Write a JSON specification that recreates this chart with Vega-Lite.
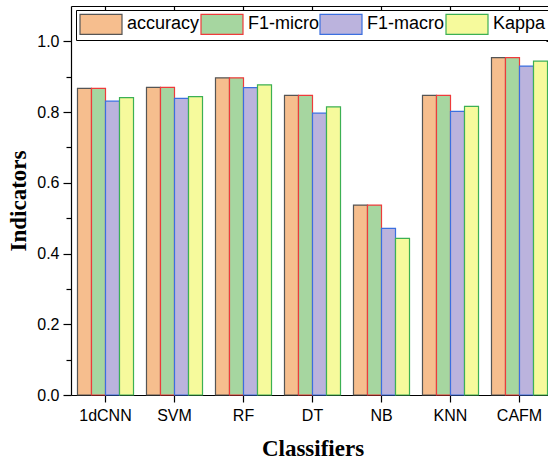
{
  "$schema": "https://vega.github.io/schema/vega-lite/v6.json",
  "width": 477,
  "height": 389,
  "autosize": {"type": "none"},
  "padding": {"left": 71, "top": 6, "right": 0, "bottom": 66},
  "background": "white",
  "config": {"view": {"stroke": null}, "font": "Liberation Sans"},
  "data": {
    "values": [
      {"classifier": "1dCNN", "metric": "accuracy", "value": 0.867},
      {"classifier": "1dCNN", "metric": "F1-micro", "value": 0.867},
      {"classifier": "1dCNN", "metric": "F1-macro", "value": 0.831},
      {"classifier": "1dCNN", "metric": "Kappa", "value": 0.841},
      {"classifier": "SVM", "metric": "accuracy", "value": 0.870},
      {"classifier": "SVM", "metric": "F1-micro", "value": 0.870},
      {"classifier": "SVM", "metric": "F1-macro", "value": 0.839},
      {"classifier": "SVM", "metric": "Kappa", "value": 0.844},
      {"classifier": "RF", "metric": "accuracy", "value": 0.897},
      {"classifier": "RF", "metric": "F1-micro", "value": 0.897},
      {"classifier": "RF", "metric": "F1-macro", "value": 0.869},
      {"classifier": "RF", "metric": "Kappa", "value": 0.877},
      {"classifier": "DT", "metric": "accuracy", "value": 0.847},
      {"classifier": "DT", "metric": "F1-micro", "value": 0.847},
      {"classifier": "DT", "metric": "F1-macro", "value": 0.797},
      {"classifier": "DT", "metric": "Kappa", "value": 0.815},
      {"classifier": "NB", "metric": "accuracy", "value": 0.537},
      {"classifier": "NB", "metric": "F1-micro", "value": 0.537},
      {"classifier": "NB", "metric": "F1-macro", "value": 0.471},
      {"classifier": "NB", "metric": "Kappa", "value": 0.443},
      {"classifier": "KNN", "metric": "accuracy", "value": 0.847},
      {"classifier": "KNN", "metric": "F1-micro", "value": 0.847},
      {"classifier": "KNN", "metric": "F1-macro", "value": 0.802},
      {"classifier": "KNN", "metric": "Kappa", "value": 0.816},
      {"classifier": "CAFM", "metric": "accuracy", "value": 0.954},
      {"classifier": "CAFM", "metric": "F1-micro", "value": 0.954},
      {"classifier": "CAFM", "metric": "F1-macro", "value": 0.930},
      {"classifier": "CAFM", "metric": "Kappa", "value": 0.944}
    ]
  },
  "layer": [
    {
      "mark": {"type": "bar", "strokeWidth": 1.2, "opacity": 1},
      "encoding": {
        "x": {
          "field": "classifier", "type": "nominal",
          "sort": ["1dCNN", "SVM", "RF", "DT", "NB", "KNN", "CAFM"],
          "scale": {"range": [0, 483], "paddingInner": 0.188, "paddingOuter": 0.094},
          "axis": {
            "orient": "bottom", "title": "Classifiers",
            "titleFont": "Liberation Serif", "titleFontSize": 23, "titleFontWeight": "bold", "titleColor": "black", "titlePadding": 14,
            "labelFont": "Liberation Sans", "labelFontSize": 16, "labelColor": "black", "labelAngle": 0, "labelPadding": 5,
            "tickSize": 7, "tickColor": "black", "tickWidth": 1.2, "domainColor": "black", "domainWidth": 1.2, "grid": false
          }
        },
        "xOffset": {
          "field": "metric", "type": "nominal",
          "sort": ["accuracy", "F1-micro", "F1-macro", "Kappa"],
          "scale": {"paddingInner": 0, "paddingOuter": 0}
        },
        "y": {
          "field": "value", "type": "quantitative", "stack": null,
          "scale": {"domain": [0, 1.1], "nice": false, "zero": true},
          "axis": {
            "orient": "left", "title": "Indicators",
            "titleFont": "Liberation Serif", "titleFontSize": 23, "titleFontWeight": "bold", "titleColor": "black", "titlePadding": 6,
            "values": [0, 0.1, 0.2, 0.3, 0.4, 0.5, 0.6, 0.7, 0.8, 0.9, 1.0],
            "labelExpr": "round(datum.value*10) % 2 == 0 ? format(datum.value, '.1f') : ''",
            "labelFont": "Liberation Sans", "labelFontSize": 16, "labelColor": "black", "labelPadding": 4,
            "tickSize": {"condition": {"test": "round(datum.value*10) % 2 == 1", "value": 5}, "value": 8},
            "tickColor": "black", "tickWidth": 1.2, "domainColor": "black", "domainWidth": 1.2, "grid": false
          }
        },
        "fill": {
          "field": "metric", "type": "nominal",
          "scale": {"domain": ["accuracy", "F1-micro", "F1-macro", "Kappa"], "range": ["#F6BE8E", "#A6D6A0", "#BBB3DD", "#F6FA9C"]},
          "legend": {
            "title": null, "orient": "none", "legendX": 5, "legendY": 4, "direction": "horizontal",
            "symbolType": "M-2.1,-1H2.1V1H-2.1Z", "symbolSize": 400, "symbolOffset": 11, "labelOffset": 15,
            "labelFont": "Liberation Sans", "labelFontSize": 18, "labelColor": "black", "columnPadding": -3,
            "strokeColor": "black", "fillColor": "white", "padding": 3, "symbolStrokeWidth": 1.2, "symbolOpacity": 1
          }
        },
        "stroke": {
          "field": "metric", "type": "nominal",
          "scale": {"domain": ["accuracy", "F1-micro", "F1-macro", "Kappa"], "range": ["#555555", "#EE3B3B", "#3B6FE0", "#3CB054"]},
          "legend": {
            "title": null, "orient": "none", "legendX": 5, "legendY": 4, "direction": "horizontal",
            "symbolType": "M-2.1,-1H2.1V1H-2.1Z", "symbolSize": 400, "symbolOffset": 11, "labelOffset": 15,
            "labelFont": "Liberation Sans", "labelFontSize": 18, "labelColor": "black", "columnPadding": -3,
            "strokeColor": "black", "fillColor": "white", "padding": 3, "symbolStrokeWidth": 1.2, "symbolOpacity": 1
          }
        }
      }
    },
    {
      "mark": {"type": "bar", "opacity": 0},
      "encoding": {
        "x": {
          "field": "classifier", "type": "nominal",
          "sort": ["1dCNN", "SVM", "RF", "DT", "NB", "KNN", "CAFM"],
          "axis": {
            "orient": "top", "title": null, "labels": false, "tickSize": -5, "tickColor": "black", "tickWidth": 1.2,
            "domainColor": "black", "domainWidth": 1.2, "grid": false
          }
        },
        "y": {
          "field": "value", "type": "quantitative", "stack": null,
          "axis": {
            "orient": "right", "title": null, "labels": false, "offset": 6,
            "values": [0, 0.1, 0.2, 0.3, 0.4, 0.5, 0.6, 0.7, 0.8, 0.9, 1.0],
            "tickSize": {"condition": {"test": "round(datum.value*10) % 2 == 1", "value": -5}, "value": -8},
            "tickColor": "black", "tickWidth": 1.2, "domainColor": "black", "domainWidth": 1.2, "grid": false
          }
        }
      }
    }
  ],
  "resolve": {"axis": {"x": "independent", "y": "independent"}}
}
